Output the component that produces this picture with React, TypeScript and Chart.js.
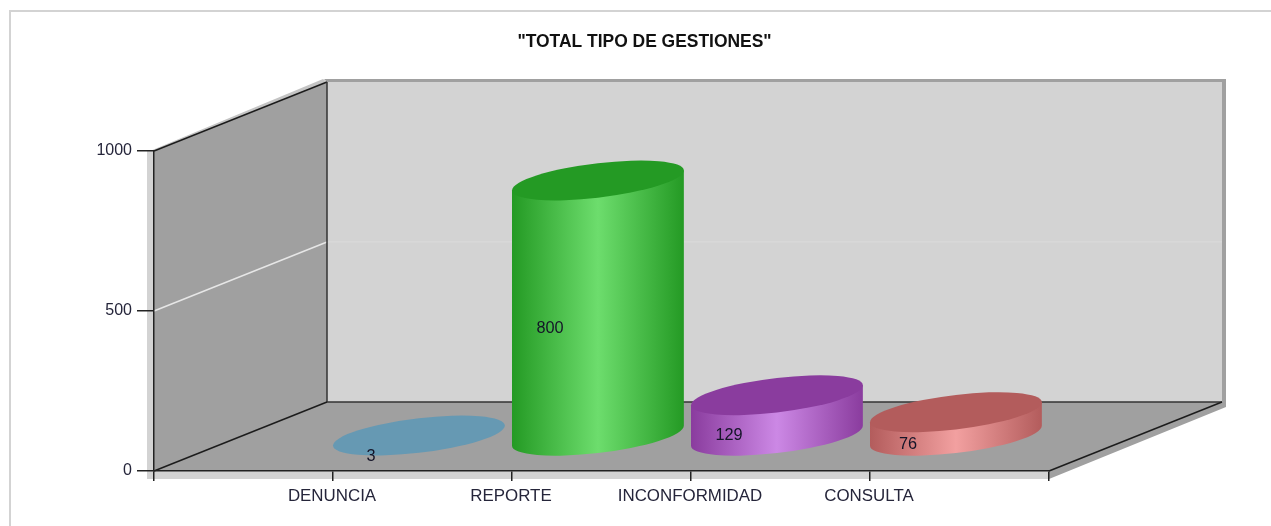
import React, { useEffect, useRef } from "react";
import { Chart, registerables } from "chart.js";

Chart.register(...registerables);

const categories = ["DENUNCIA", "REPORTE", "INCONFORMIDAD", "CONSULTA"];
const seriesValues = [3, 800, 129, 76];
const yTicks = [0, 500, 1000];
const chartTitle = '"TOTAL TIPO DE GESTIONES"';
const capColors = ["#6699b3", "#249a24", "#8a3c9e", "#b35c5c"];
const lightColors = ["#8cc4e0", "#6ddd6d", "#cc88e5", "#f2a0a0"];

const DEPTH_X = 173;
const DEPTH_Y = 69;
const FONT = '"Liberation Sans", Arial, sans-serif';

const poly = (ctx: CanvasRenderingContext2D, pts: number[][], fill: string) => {
  ctx.beginPath();
  pts.forEach((p, i) => (i ? ctx.lineTo(p[0], p[1]) : ctx.moveTo(p[0], p[1])));
  ctx.closePath();
  ctx.fillStyle = fill;
  ctx.fill();
};
const seg = (ctx: CanvasRenderingContext2D, a: number[], b: number[], color: string, w = 1.5) => {
  ctx.beginPath();
  ctx.moveTo(a[0], a[1]);
  ctx.lineTo(b[0], b[1]);
  ctx.strokeStyle = color;
  ctx.lineWidth = w;
  ctx.stroke();
};

const wallsPlugin = {
  id: "walls3d",
  afterLayout(chart: any) {
    chart.titleBlock.left = 18;
    chart.titleBlock.right = 1271;
  },
  beforeDraw(chart: any) {
    const ctx: CanvasRenderingContext2D = chart.ctx;
    const { left: l, right: r, top: t, bottom: b } = chart.chartArea;
    const dx = DEPTH_X, dy = DEPTH_Y;
    ctx.save();
    ctx.fillStyle = "#ffffff";
    ctx.fillRect(0, 0, chart.width, chart.height);
    // outer frame
    ctx.strokeStyle = "#d3d3d3";
    ctx.lineWidth = 2;
    ctx.beginPath();
    ctx.moveTo(10, 526);
    ctx.lineTo(10, 11);
    ctx.lineTo(1271, 11);
    ctx.stroke();
    // extrusion shadows
    poly(ctx, [[l - 7, t], [l, t], [l, b + 8], [l - 7, b + 8]], "#d3d3d3");
    poly(ctx, [[l - 7, b], [r, b], [r, b + 8], [l - 7, b + 8]], "#d3d3d3");
    poly(ctx, [[l - 4, t], [l + dx - 4, t - dy - 3], [l + dx, t - dy], [l, t]], "#c4c4c4");
    poly(ctx, [[l + dx - 3, t - dy - 3], [r + dx + 4, t - dy - 3], [r + dx + 4, b - dy + 5], [r, b + 8], [r, b], [r + dx, b - dy], [r + dx, t - dy], [l + dx, t - dy]], "#a0a0a0");
    // walls
    poly(ctx, [[l + dx, t - dy], [r + dx, t - dy], [r + dx, b - dy], [l + dx, b - dy]], "#d3d3d3");
    poly(ctx, [[l, t], [l + dx, t - dy], [l + dx, b - dy], [l, b]], "#a0a0a0");
    poly(ctx, [[l, b], [l + dx, b - dy], [r + dx, b - dy], [r, b]], "#a0a0a0");
    // gridlines on the walls
    const ys = chart.scales.y;
    yTicks.filter((v) => v > 0 && v < ys.max).forEach((v) => {
      const y = ys.getPixelForValue(v);
      seg(ctx, [l, y], [l + dx, y - dy], "#e6e6e6", 1.5);
      seg(ctx, [l + dx, y - dy], [r + dx, y - dy], "#dadada", 1.2);
    });
    // edges
    seg(ctx, [l, t], [l + dx, t - dy], "#1c1c1c");
    seg(ctx, [l + dx, t - dy], [l + dx, b - dy], "#333333");
    seg(ctx, [l, b], [l + dx, b - dy], "#1c1c1c");
    seg(ctx, [l + dx, b - dy], [r + dx, b - dy], "#333333");
    seg(ctx, [r, b], [r + dx, b - dy], "#1c1c1c");
    ctx.restore();
  },
  afterDatasetsDraw(chart: any) {
    const ctx: CanvasRenderingContext2D = chart.ctx;
    const meta = chart.getDatasetMeta(0);
    const skew = 10 / 86;
    const slots = meta.data.slice(1, 1 + categories.length);
    slots.forEach((bar: any, i: number) => {
      const a = bar.width / 2;
      const b = 17.3;
      const h = bar.base - bar.y;
      const cx = bar.x + a;
      const cy = bar.base - DEPTH_Y / 2;
      ctx.save();
      ctx.transform(1, -skew, 0, 1, cx, cy);
      if (h > 3) {
        const g = ctx.createLinearGradient(-a, 0, a, 0);
        g.addColorStop(0, capColors[i]);
        g.addColorStop(0.5, lightColors[i]);
        g.addColorStop(1, capColors[i]);
        ctx.beginPath();
        ctx.moveTo(-a, -h);
        ctx.lineTo(-a, 0);
        ctx.ellipse(0, 0, a, b, 0, Math.PI, 0, true);
        ctx.lineTo(a, -h);
        ctx.closePath();
        ctx.fillStyle = g;
        ctx.fill();
      }
      ctx.beginPath();
      ctx.ellipse(0, -h, a, b, 0, 0, Math.PI * 2);
      ctx.fillStyle = capColors[i];
      ctx.fill();
      ctx.restore();
    });
    slots.forEach((bar: any, i: number) => {
      ctx.save();
      ctx.font = `16.3px ${FONT}`;
      ctx.fillStyle = "#141428";
      ctx.textAlign = "center";
      ctx.textBaseline = "middle";
      ctx.fillText(String(seriesValues[i]), bar.x + 38, (bar.y + bar.base) / 2 - 14);
      ctx.restore();
    });
  },
};

export default function App() {
  const ref = useRef<HTMLCanvasElement>(null);
  useEffect(() => {
    const chart = new Chart(ref.current as HTMLCanvasElement, {
      type: "bar",
      data: {
        labels: ["", ...categories, ""],
        datasets: [
          {
            data: [null, ...seriesValues, null],
            backgroundColor: "rgba(0,0,0,0)",
            borderWidth: 0,
            barPercentage: 1,
            categoryPercentage: 0.96,
          },
        ],
      },
      options: {
        responsive: false,
        animation: false,
        events: [],
        layout: { padding: { left: 18, right: 222, top: 0, bottom: 0 } },
        plugins: {
          legend: { display: false },
          tooltip: { enabled: false },
          title: {
            display: true,
            text: chartTitle,
            color: "#111111",
            font: { family: FONT, size: 17.45, weight: "bold" },
            padding: { top: 31.9, bottom: 98.1 },
          },
        },
        scales: {
          x: {
            offset: false,
            border: { display: true, color: "#222222", width: 1.5 },
            grid: { offset: false, drawOnChartArea: false, drawTicks: true, tickLength: 10, color: "#222222", lineWidth: 1.5 },
            ticks: {
              autoSkip: false,
              maxRotation: 0,
              minRotation: 0,
              padding: 5.5,
              labelOffset: -1,
              color: "#25253a",
              font: { family: FONT, size: 16.9 },
            },
            afterFit(scale: any) {
              scale.height = 55;
            },
          },
          y: {
            min: 0,
            max: 1000,
            border: { display: true, color: "#222222", width: 1.5 },
            grid: { drawOnChartArea: false, drawTicks: true, tickLength: 17, color: "#222222", lineWidth: 1.5 },
            ticks: {
              stepSize: 500,
              padding: 5,
              color: "#25253a",
              font: { family: FONT, size: 16 },
              callback: (v: any) => String(v),
            },
            afterFit(scale: any) {
              scale.width = 136;
            },
          },
        },
      },
      plugins: [wallsPlugin],
    } as any);
    return () => chart.destroy();
  }, []);
  return (
    <div style={{ position: "absolute", left: 0, top: 0, width: 1271, height: 526, background: "#fff" }}>
      <canvas ref={ref} width={1271} height={526} style={{ display: "block" }} />
    </div>
  );
}
